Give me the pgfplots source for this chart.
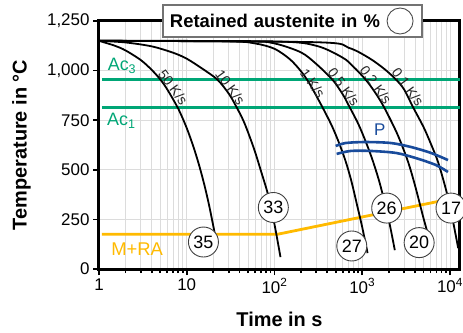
\documentclass[border=0pt]{standalone}
\usepackage{pgfplots}
\pgfplotsset{compat=1.18}
\usepackage{fontspec}
\setmainfont{Liberation Sans}
\definecolor{acgreen}{RGB}{0,166,118}
\definecolor{ryellow}{RGB}{255,186,0}
\definecolor{pblue}{RGB}{25,75,155}
\definecolor{gridgray}{RGB}{220,220,220}
\begin{document}
\begin{tikzpicture}
\begin{axis}[name=ax,
  xmode=log, width=361bp, height=248bp, scale only axis,
  xmin=1, xmax=13000, ymin=0, ymax=1250, clip=false,
  xtick={1,10,100,1000,10000},
  xticklabels={1,10,10\textsuperscript{2},10\textsuperscript{3},10\textsuperscript{4}},
  ytick={0,250,500,750,1000,1250},
  yticklabels={0,250,500,750,{1,000},{1,250}},
  /pgf/number format/assume math mode=true,
  grid=both,
  major grid style={gridgray, line width=0.8bp},
  minor grid style={gridgray, line width=0.8bp},
  axis line style={line width=3bp},
  tick style={black, line width=1.8bp},
  tick align=outside, xtick pos=lower, ytick pos=left,
  major tick length=6bp, minor tick length=4bp,
  ticklabel style={font=\fontsize{17}{17}\selectfont},
  xlabel={Time in s}, ylabel={Temperature in °C},
  label style={font=\bfseries\fontsize{20}{20}\selectfont},
  xlabel style={at={(axis description cs:0.5,-0.205)}, anchor=center},
  ylabel style={at={(axis description cs:-0.215,0.5)}, anchor=center},
]
% Ac lines
\addplot[acgreen, line width=2.8bp] coordinates {(1.08,955) (13000,955)};
\addplot[acgreen, line width=2.8bp] coordinates {(1.08,815) (13000,815)};
% M+RA line
\addplot[ryellow, line width=2.8bp] coordinates {(1.08,175) (108,175) (8900,348)};
% cooling curves
\addplot[black, line width=1.8bp, smooth] coordinates {
(1,1150) (1.5,1126) (2,1102) (3,1053) (4,1003) (5,955) (6,905) (8,808) (10,710)
(12,612) (14,515) (16,418) (18,320) (20,220) (21,172)};
\addplot[black, line width=1.8bp, smooth] coordinates {
(1,1150) (2,1142) (4,1122) (7,1090) (10,1060) (15,1010) (22.3,955) (30,885)
(36,825) (45,740) (58,610) (70,495) (85,370) (100,225) (117,60)};
\addplot[black, line width=1.8bp, smooth] coordinates {
(1,1150) (30,1147) (60,1137) (100,1110) (150,1057) (200,997) (250,935)
(338,830) (450,722) (550,630) (650,540) (750,445) (870,325) (1000,210) (1150,80)};
\addplot[black, line width=1.8bp, smooth] coordinates {
(1,1150) (50,1147) (100,1137) (200,1092) (300,1033) (462,952) (600,880)
(700,825) (900,732) (1100,640) (1320,545) (1600,425) (2000,250) (2350,95)};
\addplot[black, line width=1.8bp, smooth] coordinates {
(1,1150) (100,1147) (300,1125) (600,1065) (800,1018) (1100,953) (1400,890)
(1770,816) (2500,682) (3300,545) (4000,420) (5000,255) (6260,100)};
\addplot[black, line width=1.8bp, smooth] coordinates {
(1,1150) (300,1143) (700,1115) (1200,1063) (1800,1007) (2420,955) (3000,905)
(3790,816) (5000,715) (6000,635) (7300,540) (9000,400) (10500,270) (12400,105)};
% pearlite
\addplot[pblue, line width=2.6bp, smooth] coordinates {
(498,620) (648,635) (1096,640) (2118,635) (3583,615) (6065,585) (9487,549)};
\addplot[pblue, line width=2.6bp, smooth] coordinates {
(511,580) (739,595) (1250,595) (2415,585) (4085,559) (6918,524) (9487,489)};
% retained austenite circles
\addplot[only marks, mark=*, mark size=15bp,
  mark options={draw=black!75, fill=white, line width=0.9bp},
  nodes near coords, point meta=explicit symbolic,
  nodes near coords align=center,
  every node near coord/.append style={anchor=center, font=\fontsize{18}{18}\selectfont, text=black}]
  table[meta=label] {
t T label
15.5 136 35
97 310 33
760 116 27
1900 307 26
4450 133 20
10270 307 17
};
% labels
\node[acgreen, font=\fontsize{18}{18}\selectfont] at (axis cs:1.83,1023) {Ac\textsubscript{3}};
\node[acgreen, font=\fontsize{18}{18}\selectfont] at (axis cs:1.80,746) {Ac\textsubscript{1}};
\node[ryellow, font=\fontsize{18.5}{18.5}\selectfont] at (axis cs:2.72,101) {M+RA};
\node[pblue, font=\fontsize{17}{17}\selectfont] at (axis cs:1585,700) {P};
\begin{scope}[every node/.style={rotate=-54, inner sep=0pt, font=\fontsize{14}{14}\selectfont, text=black!85}]
\node at (axis cs:7.0,917) {50 K/s};
\node at (axis cs:31.4,917) {10 K/s};
\node at (axis cs:272,937) {1 K/s};
\node at (axis cs:617,917) {0.5 K/s};
\node at (axis cs:1430,927) {0.2 K/s};
\node at (axis cs:3320,917) {0.1 K/s};
\end{scope}
% legend box
\node[draw=black!55, fill=white, line width=1.2bp, minimum width=259bp, minimum height=32bp,
  font=\bfseries\fontsize{18.5}{18.5}\selectfont, text width=245bp, align=left]
  at (rel axis cs:0.536,1) {Retained austenite in \%};
\draw[black!70, line width=0.9bp, fill=white] (rel axis cs:0.834,1) circle (13bp);
\end{axis}
\pgfresetboundingbox
\path[use as bounding box] ([shift={(-99bp,-64bp)}]ax.south west) rectangle ([shift={(364bp,269bp)}]ax.south west);
\end{tikzpicture}
\end{document}
